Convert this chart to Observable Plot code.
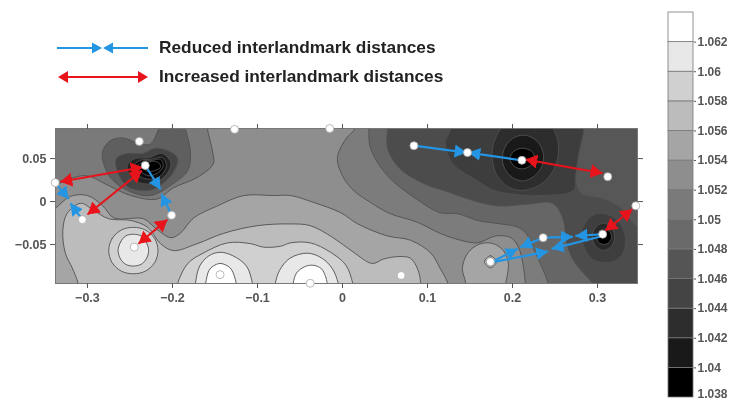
<!DOCTYPE html>
<html><head><meta charset="utf-8">
<script src="https://cdn.jsdelivr.net/npm/d3@7"></script>
<script src="https://cdn.jsdelivr.net/npm/@observablehq/plot@0.6"></script>
<style>
html,body{margin:0;padding:0;background:#fff}
#wrap{position:relative;width:730px;height:402px;overflow:hidden;filter:blur(.35px)}
#wrap>svg,#wrap>div{position:absolute;left:0;top:0}
</style></head><body><div id="wrap"></div>
<script>
// Colour-bar levels and greys
const levels=[1.038,1.04,1.042,1.044,1.046,1.048,1.05,1.052,1.054,1.056,1.058,1.06,1.062];
const greys=["#000000","#191919","#2d2d2d","#444444","#555555","#6a6a6a","#7a7a7a","#8e8e8e","#a5a5a5","#bcbcbc","#d0d0d0","#e8e8e8","#ffffff"];
const baseLevel=1.052;
// Contour outlines, in thousandths of the axis units
const A=[[-355,13],[-338,19],[-316,28],[-300,30],[-276,19],[-249,7],[-218,3],[-199,16],[-171,28],[-152,44],[-153,59],[-159,85],[-161,106],[-355,106]];
const C3=[[-355,-20],[-338,-8],[-320,6],[-300,7],[-282,-5],[-269,-19],[-234,-20],[-220,-31],[-202,-42],[-191,-37],[-175,-19],[-147,-5],[-116,7],[-81,7],[-61,7],[-34,-1],[-2,-13],[18,-26],[53,-40],[80,-45],[104,-60],[115,-78],[124,-95],[129,-115],[-355,-115]];
const C4=[[-308,-115],[-311,-95],[-318,-77],[-326,-60],[-329,-34],[-324,-14],[-308,-2],[-293,-10],[-275,-20],[-249,-22],[-229,-30],[-214,-49],[-199,-57],[-171,-49],[-140,-37],[-100,-28],[-61,-26],[-38,-28],[-11,-42],[13,-59],[35,-72],[48,-67],[65,-64],[80,-66],[89,-80],[92,-95],[93,-115]];
const C5=[[-199,-115],[-194,-95],[-182,-72],[-164,-60],[-135,-48],[-108,-49],[-93,-53],[-73,-52],[-61,-48],[-38,-48],[-14,-59],[4,-74],[12,-95],[15,-115]];
const Pa1=[[-175,-115],[-173,-95],[-168,-75],[-157,-63],[-144,-59],[-129,-63],[-113,-75],[-106,-95],[-104,-115]];
const Pa2=[[-164,-115],[-161,-95],[-157,-80],[-152,-75],[-144,-72],[-135,-75],[-130,-80],[-125,-95],[-122,-115]];
const Pb1=[[-81,-115],[-79,-95],[-74,-80],[-62,-66],[-41,-60],[-24,-66],[-12,-78],[-5,-95],[-2,-115]];
const Pb2=[[-60,-115],[-58,-95],[-54,-83],[-45,-76],[-35,-74],[-25,-78],[-20,-87],[-18,-95],[-15,-115]];
const Pd1=[[-275,-57],[-271,-43],[-260,-33],[-246,-30],[-232,-33],[-221,-43],[-217,-57],[-221,-71],[-232,-81],[-246,-84],[-260,-81],[-271,-71]];
const Pd2=[[-264,-57],[-261,-47],[-255,-40],[-246,-38],[-237,-40],[-231,-47],[-228,-57],[-231,-67],[-237,-73],[-246,-75],[-255,-73],[-261,-67]];
const K=[[21,106],[15,85],[4,73],[-6,51],[0,30],[13,13],[33,-1],[56,-14],[88,-24],[115,-37],[139,-45],[159,-48],[180,-40],[198,-42],[207,-53],[213,-77],[215,-95],[216,-115],[374,-115],[374,106]];
const M=[[31,106],[31,85],[33,62],[53,30],[84,5],[115,-13],[135,-14],[159,-22],[186,-26],[204,-29],[215,-36],[227,-60],[242,-95],[246,-115],[374,-115],[374,106]];
const Q=[[53,106],[53,85],[53,62],[68,38],[100,19],[119,13],[151,2],[182,-5],[218,-3],[247,-2],[259,-19],[265,-53],[274,-72],[294,-95],[305,-115],[374,-115],[374,106]];
const T=[[284,106],[284,85],[278,56],[274,28],[280,10],[307,3],[327,-7],[339,-22],[347,-30],[374,-45],[374,106]];
const P2=[[127,106],[127,84],[121,69],[129,45],[159,24],[178,13],[206,8],[233,7],[272,13],[274,28],[278,56],[284,85],[284,106]];
const P1a=[[176,59],[179,72],[186,85],[194,100],[241,100],[248,85],[253,72],[254,57],[249,38],[236,22],[222,15],[209,13],[195,17],[182,30],[177,44]];
const P1b=[[188,50],[192,65],[203,75],[216,77],[229,70],[236,57],[235,42],[226,30],[213,24],[200,28],[191,38]];
const P1c=[[197,50],[202,59],[212,62],[223,58],[226,49],[220,41],[210,38],[201,42]];
const P2a=[[281,-38],[286,-24],[296,-15],[307,-14],[320,-19],[330,-32],[333,-45],[330,-60],[320,-69],[307,-71],[294,-67],[285,-55]];
const P2b=[[294,-41],[297,-31],[307,-25],[317,-31],[320,-41],[317,-51],[307,-57],[297,-51]];
const P2c=[[299,-41],[302,-34],[310,-32],[316,-38],[315,-46],[308,-50],[301,-47]];
const Pe1=[[145,-115],[145,-95],[141,-78],[146,-62],[156,-52],[168,-48],[180,-50],[190,-58],[195,-71],[194,-85],[192,-95],[189,-115]];
const Pe2=[[167,-70],[174,-63],[181,-70],[174,-77]];
const Pe3=[[169,-70],[174,-65],[179,-70],[174,-75]];
const O1=[[-282,59],[-273,71],[-258,74],[-238,67],[-226,67],[-216,85],[-208,106],[-191,106],[-185,85],[-179,59],[-182,36],[-199,21],[-226,7],[-253,13],[-273,28],[-282,48]];
const O2=[[-266,50],[-253,56],[-235,56],[-220,62],[-205,59],[-194,50],[-199,34],[-214,19],[-228,13],[-252,17],[-264,33]];
const O3=[[-253,42],[-244,50],[-228,51],[-212,56],[-202,45],[-206,33],[-220,22],[-235,21],[-249,28]];
const O4=[[-246,40],[-238,48],[-226,49],[-212,51],[-207,42],[-214,30],[-226,26],[-238,29]];
const O5=[[-241,40],[-234,47],[-224,48],[-214,49],[-211,41],[-218,33],[-228,30],[-236,34]];
const O6=[[-236,41],[-231,45],[-222,47],[-216,45],[-214,40],[-221,36],[-229,35]];
// Painted in order: [estimated level, outline]
const bands=[[1.05,A],[1.054,C3],[1.056,C4],[1.058,C5],[1.06,Pa1],[1.062,Pa2],[1.06,Pb1],[1.062,Pb2],[1.058,Pd1],[1.06,Pd2],
 [1.0502,K],[1.0476,M],[1.045,Q],[1.0462,T],[1.0434,P2],[1.042,P1a],[1.04,P1b],[1.038,P1c],[1.0435,P2a],[1.0415,P2b],[1.038,P2c],
 [1.054,Pe1],[1.056,Pe2],[1.058,Pe3],[1.047,O1],[1.044,O2],[1.041,O3],[1.039,O4],[1.038,O5],[1.038,O6]];
// Landmarks (x, y in thousandths)
const landmarks=[[-239,70],[-232,42],[-338,22],[-306,-21],[-201,-16],[-245,-53],[-127,84],[-15,85],[-144,-85],[-38,-95],[84,65],[147,57],[211,48],[312,29],[345,-5],[306,-38],[236,-42],[174,-70],[69,-86]];
// Increased distances: tip to tip
const increased=[[-332,23,-235,40],[-300,-15,-236,36],[-240,-49,-206,-21],[215,49,306,33],[309,-34,341,-9]];
// Reduced distances: landmark to arrow tip
const reduced=[[-338,22,-322,3],[-306,-21,-320,-2],[-232,42,-214,14],[-201,-16,-213,9],[84,65,146,57],[211,48,148,57],[236,-42,209,-53],[174,-71,206,-55],[236,-42,271,-41],[306,-38,274,-40],[174,-71,242,-58],[306,-40,246,-55]];
const xTicks=[-.3,-.2,-.1,0,.1,.2,.3];
const yTicks=[-.05,0,.05];
const barTicks=levels.slice(1);
const barBottomTick=levels.slice(0,1);

const rows=bands.flatMap(([level,pts],id)=>pts.map(([x,y])=>({id,level,x:x/1000,y:y/1000})));
const segs=a=>a.map(([x1,y1,x2,y2])=>({x1:x1/1000,y1:y1/1000,x2:x2/1000,y2:y2/1000}));
const head=(len,hw)=>(color,ctx)=>{
  const m=ctx.document.createElementNS("http://www.w3.org/2000/svg","marker");
  m.setAttribute("viewBox",`${-len} ${-hw} ${len} ${2*hw}`);
  m.setAttribute("markerUnits","userSpaceOnUse");
  m.setAttribute("markerWidth",len);m.setAttribute("markerHeight",2*hw);
  m.setAttribute("orient","auto-start-reverse");
  const p=ctx.document.createElementNS("http://www.w3.org/2000/svg","path");
  p.setAttribute("d",`M0,0L${-len},${-hw}L${-len},${hw}Z`);p.setAttribute("fill",color);p.setAttribute("stroke","none");
  m.appendChild(p);return m;
};
const colorScale={type:"linear",domain:levels,range:greys,interpolate:"rgb"};
const font={fontFamily:"'Liberation Sans',Arial,sans-serif",fontSize:"12.5px",fontWeight:600,background:"transparent"};
const barFont={...font,fontSize:"12px"};
const RED="#e8131b",BLUE="#2495e3",TICK="#555",TXT="#555";
const fmt=d=>d===0?"0":d3.format(Math.abs(d)<.1?".2f":".1f")(d);
const blank=()=>"";

const main=Plot.plot({
  width:730,height:402,marginLeft:55,marginRight:93,marginTop:128,marginBottom:119,
  style:font,
  x:{domain:[-.3376,.347]},y:{domain:[-.0953,.085]},color:colorScale,
  marks:[
    Plot.rect([{level:baseLevel}],{fill:"level"}),
    Plot.line(rows,{x:"x",y:"y",z:"id",fill:"level",stroke:"#505050",strokeWidth:.9,curve:"catmull-rom-closed",clip:"frame"}),
    Plot.frame({stroke:"#777",strokeWidth:1}),
    Plot.axisX(xTicks,{anchor:"bottom",tickSize:5,tickPadding:5,tickFormat:fmt,label:null,stroke:TICK,fill:TXT}),
    Plot.axisX(xTicks,{anchor:"top",tickSize:5,tickFormat:blank,label:null,stroke:TICK}),
    Plot.axisY(yTicks,{anchor:"left",tickSize:5,tickPadding:4,tickFormat:fmt,label:null,stroke:TICK,fill:TXT}),
    Plot.axisY(yTicks,{anchor:"right",tickSize:5,tickFormat:blank,label:null,stroke:TICK}),
    Plot.link(segs(increased),{x1:"x1",y1:"y1",x2:"x2",y2:"y2",stroke:RED,strokeWidth:2,markerStart:head(12,7),markerEnd:head(12,7)}),
    Plot.link(segs(reduced),{x1:"x1",y1:"y1",x2:"x2",y2:"y2",stroke:BLUE,strokeWidth:2.2,markerEnd:head(12,6.5)}),
    Plot.dot(landmarks,{x:d=>d[0]/1000,y:d=>d[1]/1000,r:4,fill:"#fff",stroke:"#aaa",strokeWidth:.8})
  ]
});
const bar=Plot.plot({
  width:730,height:402,marginLeft:668,marginRight:37,marginTop:12,marginBottom:5,
  style:barFont,
  y:{domain:[1.038,1.064]},color:colorScale,
  marks:[
    Plot.rect(levels,{y1:d=>d,y2:d=>d+.002,fill:d=>d,stroke:"#777",strokeWidth:.8}),
    Plot.axisY(barTicks,{anchor:"right",tickSize:2,tickPadding:2,tickFormat:d=>String(d),label:null,stroke:TICK,fill:TXT}),
    Plot.axisY(barBottomTick,{anchor:"right",tickSize:0,tickPadding:4,dy:-3,tickFormat:d=>String(d),label:null,fill:TXT})
  ]
});
const legend=`<div style="width:730px;height:110px"><svg width="730" height="110" style="font:bold 17.3px 'Liberation Sans',Arial,sans-serif;fill:#222">
<line x1="57" y1="48" x2="95" y2="48" stroke="${BLUE}" stroke-width="2"/><line x1="106" y1="48" x2="148" y2="48" stroke="${BLUE}" stroke-width="2"/>
<path d="M102,48L92,42.5L92,53.5Z M103,48L113,42.5L113,53.5Z" fill="${BLUE}"/>
<line x1="62" y1="77" x2="144" y2="77" stroke="${RED}" stroke-width="2"/>
<path d="M58,77L68,71L68,83Z M148,77L138,71L138,83Z" fill="${RED}"/>
<text x="159" y="52.5">Reduced interlandmark distances</text>
<text x="159" y="81.5">Increased interlandmark distances</text></svg></div>`;
const wrap=document.getElementById("wrap");
wrap.append(main,bar);
wrap.insertAdjacentHTML("beforeend",legend);
</script></body></html>
